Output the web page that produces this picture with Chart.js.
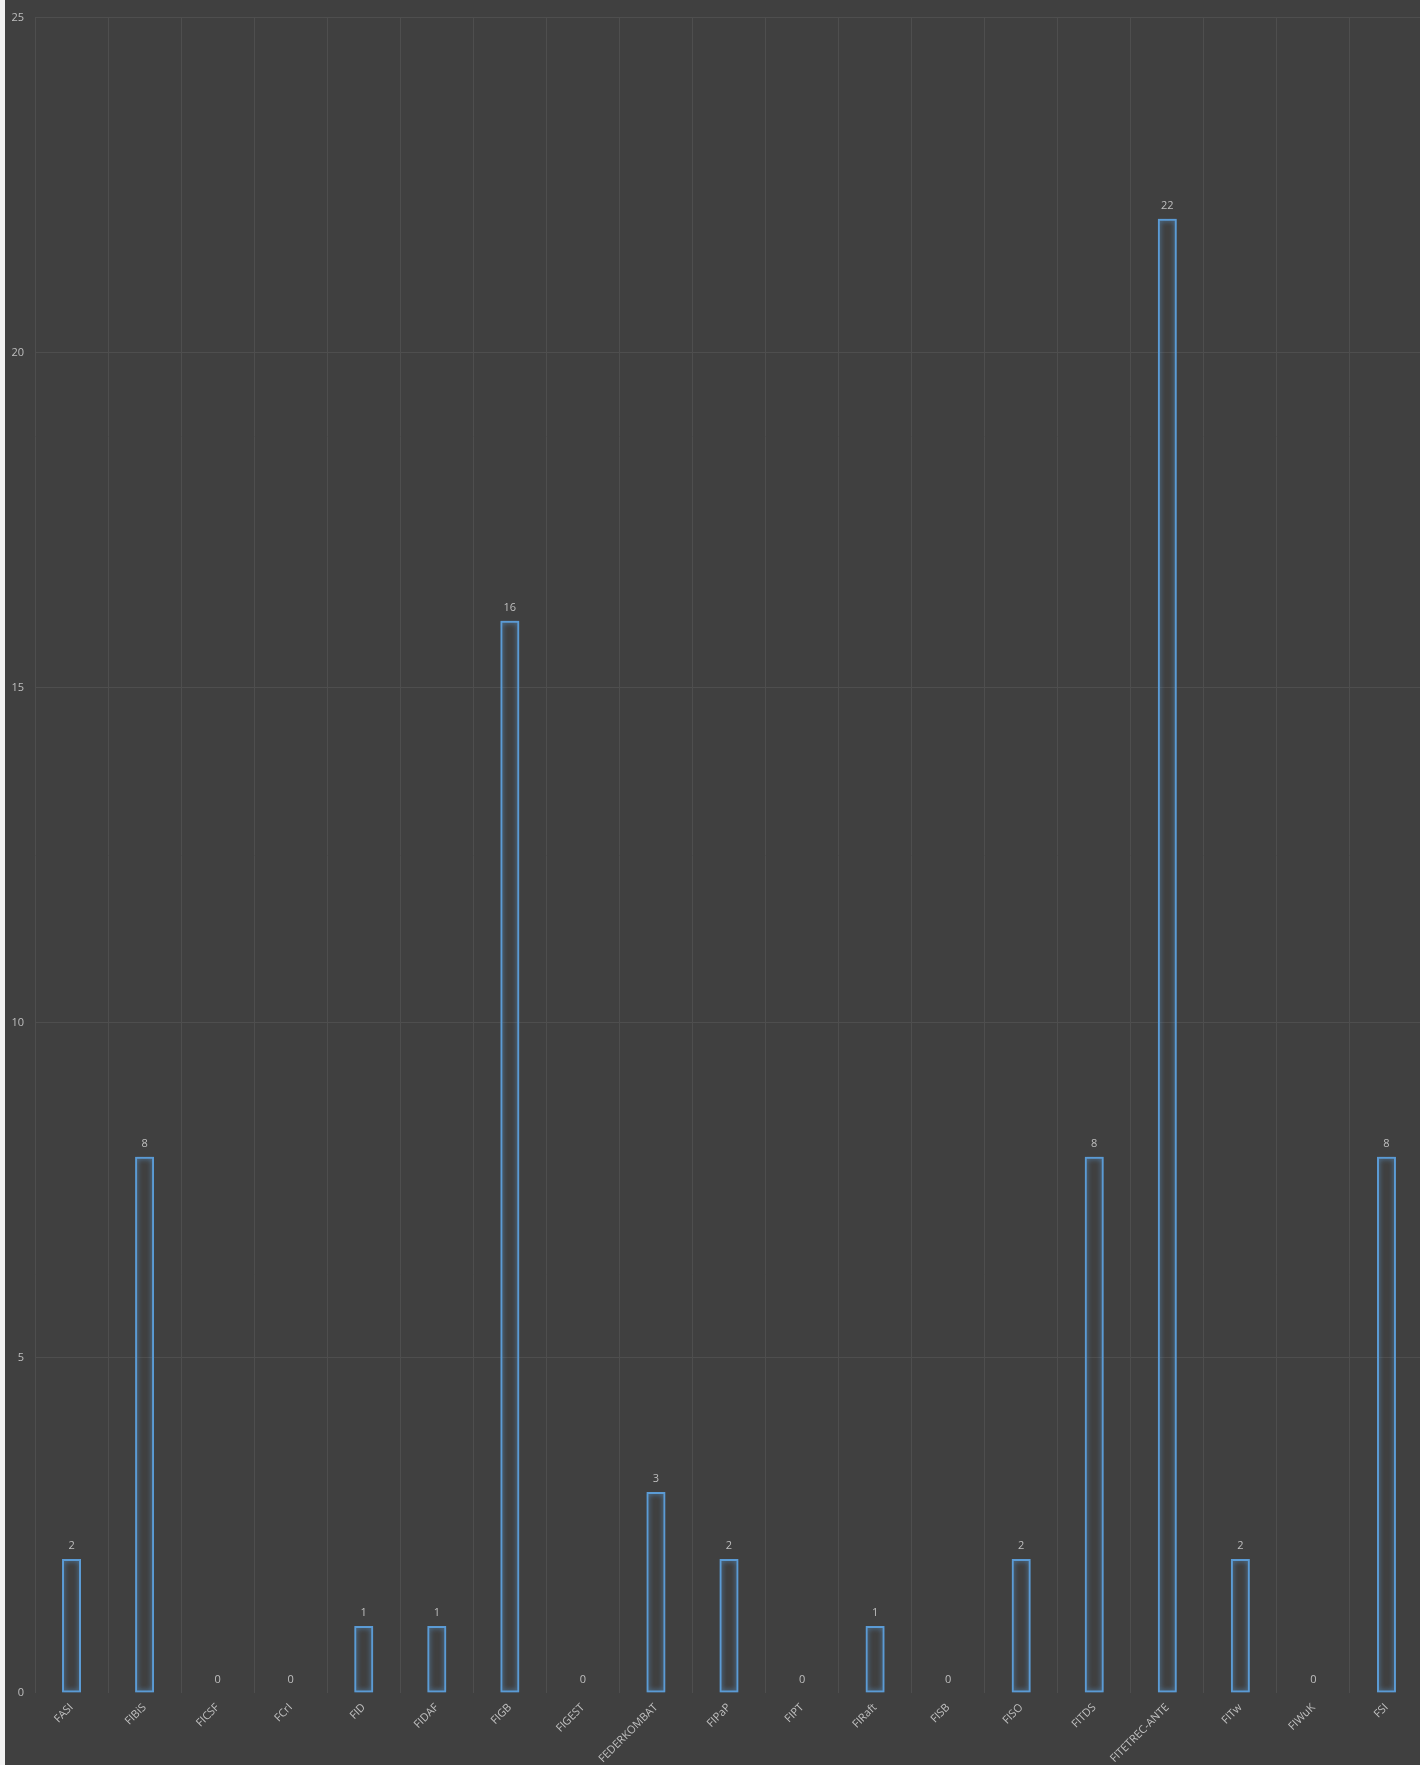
<!DOCTYPE html>
<html>
<head>
<meta charset="utf-8">
<script src="https://cdn.jsdelivr.net/npm/chart.js@4"></script>
<style>
  html, body { margin: 0; padding: 0; background: #404040; overflow: hidden; }
  #wrap { position: relative; width: 1420px; height: 1765px; overflow: hidden; }
  #strip { position: absolute; left: 0; top: 0; width: 5px; height: 1765px; background: #f2f2f2; }
</style>
</head>
<body>
<div id="wrap">
  <canvas id="grafico" width="1423" height="1765"></canvas>
  <div id="strip"></div>
</div>
<script>
const categorie = ['FASI', 'FIBiS', 'FICSF', 'FCrI', 'FID', 'FIDAF', 'FIGB', 'FIGEST', 'FEDERKOMBAT', 'FIPaP',
  'FIPT', 'FIRaft', 'FISB', 'FISO', 'FITDS', 'FITETREC-ANTE', 'FITw', 'FIWuK', 'FSI'];
const valori = [2, 8, 0, 0, 1, 1, 16, 0, 3, 2, 0, 1, 0, 2, 8, 22, 2, 0, 8];
const tickY = [0, 5, 10, 15, 20, 25];

const coloreTesto = '#bfbfbf';
const coloreGriglia = '#4e4e4e';
const blu = '#5b9bd5';

// bagliore attorno alle barre
const bagliore = {
  id: 'bagliore',
  beforeDatasetsDraw(chart) {
    const ctx = chart.ctx;
    ctx.save();
    ctx.shadowColor = 'rgba(91, 155, 213, 0.9)';
    ctx.shadowBlur = 5;
  },
  afterDatasetsDraw(chart) {
    chart.ctx.restore();
  }
};

// etichette dei valori sopra le barre
const etichette = {
  id: 'etichette',
  afterDraw(chart) {
    const ctx = chart.ctx;
    const meta = chart.getDatasetMeta(0);
    ctx.save();
    ctx.fillStyle = coloreTesto;
    ctx.font = '11px "Open Sans"';
    ctx.textAlign = 'center';
    ctx.textBaseline = 'middle';
    meta.data.forEach((bar, i) => {
      ctx.fillText(String(valori[i]), bar.x, bar.y - 13);
    });
    ctx.restore();
  }
};

new Chart(document.getElementById('grafico'), {
  type: 'bar',
  data: {
    labels: categorie,
    datasets: [{
      data: valori,
      backgroundColor: 'rgba(0,0,0,0)',
      borderColor: blu,
      borderWidth: (c) => (valori[c.dataIndex] === 0 ? 0 : 2),
      borderSkipped: false,
      barPercentage: 0.26,
      categoryPercentage: 1
    }]
  },
  options: {
    responsive: false,
    animation: false,
    layout: { padding: { top: 15, right: 0, left: 0, bottom: 0 } },
    plugins: {
      legend: { display: false },
      tooltip: { enabled: false }
    },
    scales: {
      x: {
        grid: { color: coloreGriglia, drawTicks: false, offset: true },
        border: { display: false },
        ticks: {
          color: coloreTesto,
          font: { family: 'Open Sans', size: 11 },
          minRotation: 45,
          maxRotation: 45,
          autoSkip: false,
          padding: 8
        },
        afterFit(scale) { scale.height = 72; }
      },
      y: {
        min: 0,
        max: 25,
        afterBuildTicks(scale) { scale.ticks = tickY.map(v => ({ value: v })); },
        grid: {
          color: (c) => (c.tick && c.tick.value === 0 ? 'rgba(0,0,0,0)' : coloreGriglia),
          drawTicks: false
        },
        border: { display: false },
        ticks: {
          color: coloreTesto,
          font: { family: 'Open Sans', size: 11 },
          padding: 11
        },
        afterFit(scale) { scale.width = 35; }
      }
    }
  },
  plugins: [bagliore, etichette]
});
</script>
</body>
</html>
